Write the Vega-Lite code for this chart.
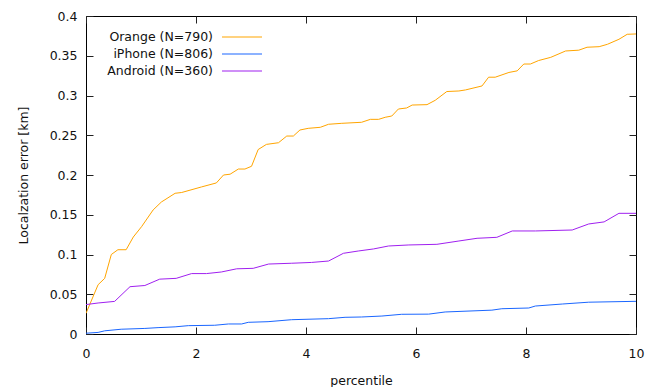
{
  "$schema": "https://vega.github.io/schema/vega-lite/v6.json",
  "width": 550,
  "height": 318,
  "autosize": {"type": "none"},
  "padding": {"left": 86, "top": 16, "right": 21, "bottom": 53},
  "background": "white",
  "config": {
    "font": "DejaVu Sans",
    "view": {"stroke": "black", "strokeWidth": 1, "fill": null},
    "axis": {"zindex": 1, "labelFont": "DejaVu Sans", "titleFont": "DejaVu Sans", "labelFontSize": 12.5, "titleFontSize": 12.5, "labelColor": "#111", "titleColor": "#111", "titleFontWeight": "normal", "domain": false, "ticks": false, "grid": true, "gridColor": "#222", "gridOpacity": 1, "gridWidth": 1}
  },
  "data": {"values": [
    {"s": "Orange (N=790)", "p": 0.0, "e": 0.026},
    {"s": "Orange (N=790)", "p": 0.22, "e": 0.062},
    {"s": "Orange (N=790)", "p": 0.34, "e": 0.070},
    {"s": "Orange (N=790)", "p": 0.46, "e": 0.100},
    {"s": "Orange (N=790)", "p": 0.58, "e": 0.106},
    {"s": "Orange (N=790)", "p": 0.73, "e": 0.106},
    {"s": "Orange (N=790)", "p": 0.86, "e": 0.122},
    {"s": "Orange (N=790)", "p": 1.01, "e": 0.135},
    {"s": "Orange (N=790)", "p": 1.22, "e": 0.156},
    {"s": "Orange (N=790)", "p": 1.37, "e": 0.166},
    {"s": "Orange (N=790)", "p": 1.62, "e": 0.177},
    {"s": "Orange (N=790)", "p": 1.74, "e": 0.178},
    {"s": "Orange (N=790)", "p": 2.10, "e": 0.185},
    {"s": "Orange (N=790)", "p": 2.37, "e": 0.190},
    {"s": "Orange (N=790)", "p": 2.50, "e": 0.200},
    {"s": "Orange (N=790)", "p": 2.62, "e": 0.201},
    {"s": "Orange (N=790)", "p": 2.77, "e": 0.2075},
    {"s": "Orange (N=790)", "p": 2.89, "e": 0.2075},
    {"s": "Orange (N=790)", "p": 3.01, "e": 0.211},
    {"s": "Orange (N=790)", "p": 3.13, "e": 0.232},
    {"s": "Orange (N=790)", "p": 3.28, "e": 0.2385},
    {"s": "Orange (N=790)", "p": 3.50, "e": 0.2406},
    {"s": "Orange (N=790)", "p": 3.65, "e": 0.249},
    {"s": "Orange (N=790)", "p": 3.77, "e": 0.249},
    {"s": "Orange (N=790)", "p": 3.89, "e": 0.2566},
    {"s": "Orange (N=790)", "p": 4.04, "e": 0.2587},
    {"s": "Orange (N=790)", "p": 4.26, "e": 0.260},
    {"s": "Orange (N=790)", "p": 4.41, "e": 0.2638},
    {"s": "Orange (N=790)", "p": 4.65, "e": 0.265},
    {"s": "Orange (N=790)", "p": 5.01, "e": 0.2663},
    {"s": "Orange (N=790)", "p": 5.17, "e": 0.270},
    {"s": "Orange (N=790)", "p": 5.32, "e": 0.270},
    {"s": "Orange (N=790)", "p": 5.44, "e": 0.2726},
    {"s": "Orange (N=790)", "p": 5.56, "e": 0.2742},
    {"s": "Orange (N=790)", "p": 5.68, "e": 0.283},
    {"s": "Orange (N=790)", "p": 5.83, "e": 0.2843},
    {"s": "Orange (N=790)", "p": 5.93, "e": 0.288},
    {"s": "Orange (N=790)", "p": 6.20, "e": 0.2885},
    {"s": "Orange (N=790)", "p": 6.35, "e": 0.294},
    {"s": "Orange (N=790)", "p": 6.56, "e": 0.305},
    {"s": "Orange (N=790)", "p": 6.78, "e": 0.3057},
    {"s": "Orange (N=790)", "p": 6.90, "e": 0.307},
    {"s": "Orange (N=790)", "p": 7.20, "e": 0.312},
    {"s": "Orange (N=790)", "p": 7.32, "e": 0.323},
    {"s": "Orange (N=790)", "p": 7.44, "e": 0.323},
    {"s": "Orange (N=790)", "p": 7.69, "e": 0.329},
    {"s": "Orange (N=790)", "p": 7.84, "e": 0.331},
    {"s": "Orange (N=790)", "p": 7.96, "e": 0.3396},
    {"s": "Orange (N=790)", "p": 8.08, "e": 0.3396},
    {"s": "Orange (N=790)", "p": 8.23, "e": 0.344},
    {"s": "Orange (N=790)", "p": 8.45, "e": 0.348},
    {"s": "Orange (N=790)", "p": 8.72, "e": 0.356},
    {"s": "Orange (N=790)", "p": 8.96, "e": 0.357},
    {"s": "Orange (N=790)", "p": 9.11, "e": 0.3607},
    {"s": "Orange (N=790)", "p": 9.33, "e": 0.3614},
    {"s": "Orange (N=790)", "p": 9.48, "e": 0.3644},
    {"s": "Orange (N=790)", "p": 9.69, "e": 0.3707},
    {"s": "Orange (N=790)", "p": 9.84, "e": 0.377},
    {"s": "Orange (N=790)", "p": 10.0, "e": 0.3774},
    {"s": "iPhone (N=806)", "p": 0.0, "e": 0.001},
    {"s": "iPhone (N=806)", "p": 0.22, "e": 0.002},
    {"s": "iPhone (N=806)", "p": 0.34, "e": 0.004},
    {"s": "iPhone (N=806)", "p": 0.64, "e": 0.006},
    {"s": "iPhone (N=806)", "p": 1.07, "e": 0.007},
    {"s": "iPhone (N=806)", "p": 1.31, "e": 0.008},
    {"s": "iPhone (N=806)", "p": 1.62, "e": 0.009},
    {"s": "iPhone (N=806)", "p": 1.86, "e": 0.0105},
    {"s": "iPhone (N=806)", "p": 2.34, "e": 0.011},
    {"s": "iPhone (N=806)", "p": 2.59, "e": 0.0126},
    {"s": "iPhone (N=806)", "p": 2.83, "e": 0.0126},
    {"s": "iPhone (N=806)", "p": 2.95, "e": 0.0147},
    {"s": "iPhone (N=806)", "p": 3.31, "e": 0.0155},
    {"s": "iPhone (N=806)", "p": 3.74, "e": 0.018},
    {"s": "iPhone (N=806)", "p": 4.41, "e": 0.0193},
    {"s": "iPhone (N=806)", "p": 4.71, "e": 0.021},
    {"s": "iPhone (N=806)", "p": 5.01, "e": 0.0214},
    {"s": "iPhone (N=806)", "p": 5.38, "e": 0.0226},
    {"s": "iPhone (N=806)", "p": 5.74, "e": 0.0248},
    {"s": "iPhone (N=806)", "p": 6.23, "e": 0.025},
    {"s": "iPhone (N=806)", "p": 6.53, "e": 0.0277},
    {"s": "iPhone (N=806)", "p": 7.38, "e": 0.030},
    {"s": "iPhone (N=806)", "p": 7.56, "e": 0.0318},
    {"s": "iPhone (N=806)", "p": 8.05, "e": 0.0327},
    {"s": "iPhone (N=806)", "p": 8.17, "e": 0.0352},
    {"s": "iPhone (N=806)", "p": 8.66, "e": 0.0377},
    {"s": "iPhone (N=806)", "p": 9.14, "e": 0.040},
    {"s": "iPhone (N=806)", "p": 10.0, "e": 0.0411},
    {"s": "Android (N=360)", "p": 0.0, "e": 0.037},
    {"s": "Android (N=360)", "p": 0.22, "e": 0.039},
    {"s": "Android (N=360)", "p": 0.52, "e": 0.041},
    {"s": "Android (N=360)", "p": 0.80, "e": 0.0595},
    {"s": "Android (N=360)", "p": 1.07, "e": 0.061},
    {"s": "Android (N=360)", "p": 1.34, "e": 0.069},
    {"s": "Android (N=360)", "p": 1.64, "e": 0.070},
    {"s": "Android (N=360)", "p": 1.92, "e": 0.076},
    {"s": "Android (N=360)", "p": 2.19, "e": 0.076},
    {"s": "Android (N=360)", "p": 2.46, "e": 0.078},
    {"s": "Android (N=360)", "p": 2.74, "e": 0.082},
    {"s": "Android (N=360)", "p": 3.04, "e": 0.0826},
    {"s": "Android (N=360)", "p": 3.32, "e": 0.088},
    {"s": "Android (N=360)", "p": 3.74, "e": 0.089},
    {"s": "Android (N=360)", "p": 4.10, "e": 0.090},
    {"s": "Android (N=360)", "p": 4.41, "e": 0.0918},
    {"s": "Android (N=360)", "p": 4.68, "e": 0.1015},
    {"s": "Android (N=360)", "p": 4.95, "e": 0.1044},
    {"s": "Android (N=360)", "p": 5.23, "e": 0.107},
    {"s": "Android (N=360)", "p": 5.50, "e": 0.1107},
    {"s": "Android (N=360)", "p": 5.87, "e": 0.112},
    {"s": "Android (N=360)", "p": 6.38, "e": 0.1128},
    {"s": "Android (N=360)", "p": 6.78, "e": 0.117},
    {"s": "Android (N=360)", "p": 7.11, "e": 0.1204},
    {"s": "Android (N=360)", "p": 7.47, "e": 0.1216},
    {"s": "Android (N=360)", "p": 7.75, "e": 0.1296},
    {"s": "Android (N=360)", "p": 8.17, "e": 0.1296},
    {"s": "Android (N=360)", "p": 8.84, "e": 0.1308},
    {"s": "Android (N=360)", "p": 9.14, "e": 0.1384},
    {"s": "Android (N=360)", "p": 9.42, "e": 0.141},
    {"s": "Android (N=360)", "p": 9.69, "e": 0.1518},
    {"s": "Android (N=360)", "p": 10.0, "e": 0.1518}
  ]},
  "mark": {"type": "line", "strokeWidth": 1, "clip": true},
  "encoding": {
    "x": {"field": "p", "type": "quantitative", "scale": {"domain": [0, 10], "nice": false, "zero": false},
          "axis": {"title": "percentile", "values": [0, 2, 4, 6, 8, 10], "gridDash": [7, 304], "labelFlush": false, "labelPadding": 13, "titleY": 46, "titleBaseline": "middle"}},
    "y": {"field": "e", "type": "quantitative", "scale": {"domain": [0, 0.4], "nice": false},
          "axis": {"title": "Localzation error [km]", "values": [0, 0.05, 0.1, 0.15, 0.2, 0.25, 0.3, 0.35, 0.4], "format": "~g", "gridDash": [7, 536], "labelFlush": false, "labelPadding": 9, "titleX": -63, "titleBaseline": "middle"}},
    "color": {"field": "s", "type": "nominal",
              "scale": {"domain": ["Orange (N=790)", "iPhone (N=806)", "Android (N=360)"], "range": ["#ffa500", "#1a66ff", "#a020f0"]},
              "legend": {"title": null, "orient": "none", "legendX": 147, "legendY": 12, "symbolType": "M-2.5,0H2.5", "symbolSize": 256, "symbolStrokeWidth": 1.2, "labelAlign": "right", "labelOffset": -38, "labelFontSize": 12.5, "labelFont": "DejaVu Sans", "labelColor": "#111", "rowPadding": 1}}
  }
}
